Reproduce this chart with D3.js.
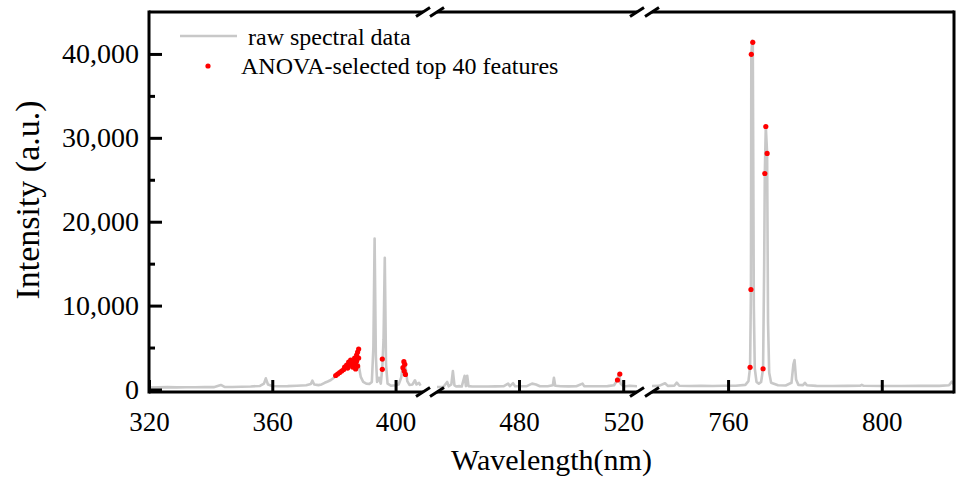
<!DOCTYPE html>
<html>
<head>
<meta charset="utf-8">
<script src="https://cdn.jsdelivr.net/npm/d3@7"></script>
<style>
    body { margin: 0; background: #fff; }
    svg { display: block; }
    text { font-family: "Liberation Serif", "Times New Roman", serif; fill: #000; }
</style>
</head>
<body>
<div id="chart"></div>
<script>
(function (d3) {
    "use strict";

    /***** Données *****/

    // spectre brut : [longueur d'onde (nm), intensité (u.a.)]
    const spectrum = [
        [320, 240], [323, 250], [326, 280], [329, 250], [332, 270], [335, 260], [338, 300], [341, 280],
        [343.3, 540], [344.5, 300], [347, 290], [350, 330], [353, 360], [356, 420], [357.3, 700],
        [357.9, 1330], [358.6, 600], [360, 420], [362, 380], [365, 400], [368, 450], [371, 500],
        [372.5, 650], [373, 1050], [373.6, 600], [375, 520], [376, 600], [377, 800], [378, 950],
        [379, 1130], [380, 1400], [381, 1750], [382, 2050], [383, 2350], [384, 2700], [385, 3000],
        [386, 3100], [387, 3300], [388, 3000], [388.7, 1500], [389.5, 900], [390.5, 700], [391.5, 650],
        [392.3, 900], [392.8, 5000], [393.2, 18000], [393.6, 4000], [394, 900], [394.6, 1400],
        [395.2, 700], [395.7, 2600], [396.1, 6000], [396.5, 15700], [396.9, 3000], [397.4, 700],
        [398.5, 450], [400, 500], [401, 600], [401.8, 1400], [402.3, 2600], [402.8, 3300], [403.3, 2500],
        [403.8, 1000], [404.5, 550], [405.5, 600], [406.3, 1100], [406.8, 600], [407.6, 800],
        [408.1, 450], [409, 380],
        [448.5, 300], [451, 320], [452.4, 900], [453, 380], [454, 600], [454.6, 2200], [455.2, 500],
        [456, 350], [457, 400], [458, 350], [459.1, 1640], [459.6, 400], [460.1, 1640], [460.6, 400],
        [462, 350], [465, 360], [468, 350], [471, 370], [474, 380], [475.8, 700], [476.5, 400],
        [477.7, 750], [478.5, 400], [481, 380], [483, 400], [485, 700], [486.5, 600], [488, 380],
        [491, 380], [493, 500], [493.4, 1400], [493.9, 450], [496, 380], [499, 370], [502, 380],
        [504.4, 700], [505, 400], [508, 380], [511, 380], [514, 400], [516.5, 500], [517.5, 1000],
        [518.4, 1850], [519, 700], [520, 400], [521, 380], [522.5, 450], [525.3, 380],
        [740.2, 420], [742, 430], [743.6, 740], [744.3, 430], [746, 450], [746.65, 810], [747.3, 440],
        [750, 420], [753, 430], [756, 420], [759, 440], [762, 450], [764.5, 550], [765.3, 1000],
        [765.73, 2640], [765.95, 11920], [766.05, 39950], [766.3, 41600], [766.43, 41380], [766.7, 10000],
        [766.95, 2500], [767.4, 900], [768, 700], [768.6, 900], [769.11, 2470], [769.4, 15000],
        [769.56, 25750], [769.82, 31350], [770.16, 28140], [770.4, 8000], [770.7, 2000], [771.2, 800],
        [773, 500], [775, 480], [776.5, 800], [777.0, 3000], [777.3, 3500], [777.7, 1200], [778.3, 550],
        [779.5, 520], [780, 800], [780.5, 500], [783, 430], [787, 420], [791, 430], [794.3, 440],
        [794.8, 560], [795.3, 440], [800, 420], [805, 420], [810, 430], [815, 430], [817.5, 500],
        [818.2, 930], [818.8, 600]
    ];

    // 40 variables sélectionnées par ANOVA : [longueur d'onde, intensité]
    const features = [
        [380.57, 1666], [381.21, 1844], [381.86, 2023], [382.51, 2201], [383.16, 2380], [383.48, 2677],
        [384.13, 2915], [384.45, 2558], [384.78, 3272], [385.10, 2915], [385.43, 3510], [385.75, 3093],
        [386.07, 2677], [386.40, 3391], [386.72, 3748], [387.04, 3034], [387.04, 2439], [387.37, 4105],
        [387.37, 3391], [387.69, 4462], [387.69, 2796], [388.02, 4819], [388.02, 3748],
        [395.7, 3630], [395.7, 2400],
        [402.7, 3310], [403.0, 3000], [402.4, 2600], [402.8, 2200], [403.2, 1800],
        [517.8, 1130], [518.7, 1840],
        [765.73, 2640], [765.95, 11920], [766.05, 39950], [766.43, 41380],
        [769.11, 2470], [769.56, 25750], [769.82, 31350], [770.16, 28140]
    ];

    const xTicks = [[320, 360, 400], [480, 520], [760, 800]];
    const yTicks = [0, 10000, 20000, 30000, 40000];
    const yMinorTicks = [5000, 15000, 25000, 35000];

    /***** Configuration *****/

    const width = 957, height = 479;
    const top = 12, bottom = 392, left = 149, right = 954;
    const lineColor = "#c8c8c8";

    // trois segments de l'axe des x (axe coupé)
    const segments = [
        {domain: [320, 408.9], range: [left, 423]},
        {domain: [448.5, 525.3], range: [437, 637]},
        {domain: [740.2, 818.8], range: [652, right]}
    ];
    segments.forEach(s => s.x = d3.scaleLinear().domain(s.domain).range(s.range));

    const y = d3.scaleLinear().domain([-300, 45000]).range([bottom, top]);

    const svg = d3.select("#chart").append("svg")
        .attr("width", width)
        .attr("height", height);

    const defs = svg.append("defs");
    segments.forEach((s, i) => {
        defs.append("clipPath").attr("id", "clip" + i)
            .append("rect")
            .attr("x", s.range[0]).attr("y", top)
            .attr("width", s.range[1] - s.range[0]).attr("height", bottom - top);
    });

    const inSeg = (s, d) => d[0] >= s.domain[0] && d[0] <= s.domain[1];

    /***** Spectre et points *****/

    segments.forEach((s, i) => {
        const g = svg.append("g").attr("clip-path", "url(#clip" + i + ")");
        const line = d3.line().x(d => s.x(d[0])).y(d => y(d[1]));
        g.append("path")
            .datum(spectrum.filter(d => inSeg(s, d)))
            .attr("fill", "none")
            .attr("stroke", lineColor)
            .attr("stroke-width", 2.6)
            .attr("stroke-linejoin", "round")
            .attr("d", line);
        g.selectAll("circle")
            .data(features.filter(d => inSeg(s, d)))
            .join("circle")
            .attr("cx", d => s.x(d[0]))
            .attr("cy", d => y(d[1]))
            .attr("r", 2.6)
            .attr("fill", "#ff0000");
    });

    /***** Axes *****/

    segments.forEach((s, i) => {
        const ax = svg.append("g")
            .attr("transform", "translate(0," + bottom + ")")
            .call(d3.axisBottom(s.x).tickValues(xTicks[i]).tickSize(-12).tickPadding(20));
        ax.select(".domain").remove();
        ax.selectAll(".tick line").attr("stroke", "#000").attr("stroke-width", 3);
        ax.selectAll(".tick text").style("font-size", "27px").attr("font-family", null);
    });

    const ay = svg.append("g")
        .attr("transform", "translate(" + left + ",0)")
        .call(d3.axisLeft(y).tickValues(yTicks).tickSize(-13).tickPadding(10).tickFormat(d3.format(",")));
    ay.select(".domain").remove();
    ay.selectAll(".tick line").attr("stroke", "#000").attr("stroke-width", 3);
    ay.selectAll(".tick text").style("font-size", "28px").attr("font-family", null);

    const ayMinor = svg.append("g")
        .attr("transform", "translate(" + left + ",0)")
        .call(d3.axisLeft(y).tickValues(yMinorTicks).tickSize(-6).tickFormat(""));
    ayMinor.select(".domain").remove();
    ayMinor.selectAll(".tick line").attr("stroke", "#000").attr("stroke-width", 3);

    /***** Cadre avec coupures *****/

    const frame = svg.append("g")
        .attr("stroke", "#000").attr("stroke-width", 3).attr("fill", "none")
        .attr("stroke-linecap", "square");
    frame.append("line").attr("x1", left).attr("x2", left).attr("y1", top).attr("y2", bottom);
    frame.append("line").attr("x1", right).attr("x2", right).attr("y1", top).attr("y2", bottom);
    [top, bottom].forEach(yy => {
        segments.forEach(s => {
            frame.append("line")
                .attr("x1", s.range[0]).attr("x2", s.range[1])
                .attr("y1", yy).attr("y2", yy)
                .attr("stroke-linecap", "butt");
        });
        // marques de coupure "//"
        for (let i = 0; i < segments.length - 1; i++) {
            [segments[i].range[1], segments[i + 1].range[0]].forEach(xx => {
                frame.append("line")
                    .attr("x1", xx - 7).attr("y1", yy + 4.5)
                    .attr("x2", xx + 7).attr("y2", yy - 4.5)
                    .attr("stroke-width", 3)
                    .attr("stroke-linecap", "butt");
            });
        }
    });

    /***** Titres des axes *****/

    svg.append("text")
        .attr("x", (left + right) / 2)
        .attr("y", 470)
        .attr("text-anchor", "middle")
        .style("font-size", "30px")
        .text("Wavelength(nm)");

    svg.append("text")
        .attr("transform", "translate(39,200) rotate(-90)")
        .attr("text-anchor", "middle")
        .style("font-size", "34px")
        .text("Intensity (a.u.)");

    /***** Légende *****/

    const legend = svg.append("g");
    legend.append("line")
        .attr("x1", 180).attr("x2", 237).attr("y1", 36).attr("y2", 36)
        .attr("stroke", lineColor).attr("stroke-width", 2.6);
    legend.append("text")
        .attr("x", 248).attr("y", 45)
        .style("font-size", "24px")
        .text("raw spectral data");
    legend.append("circle")
        .attr("cx", 208).attr("cy", 66).attr("r", 2.6)
        .attr("fill", "#ff0000");
    legend.append("text")
        .attr("x", 241).attr("y", 74)
        .style("font-size", "24px")
        .text("ANOVA-selected top 40 features");

})(d3);
</script>
</body>
</html>
